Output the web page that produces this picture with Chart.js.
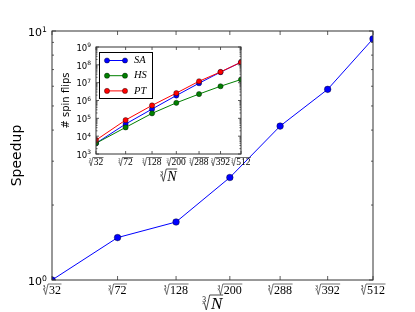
<!DOCTYPE html>
<html lang="en">
<head>
<meta charset="UTF-8">
<title>Speedup</title>
<script src="https://cdn.jsdelivr.net/npm/chart.js"></script>
<style>
    html, body { margin: 0; padding: 0; background: #fff; }
    #wrap { position: relative; width: 415px; height: 312px; }
    #main { position: absolute; left: 0; top: 0; }
    #inset { position: absolute; left: 52px; top: 36px; }
</style>
</head>
<body>
<div id="wrap">
    <canvas id="main" width="415" height="312"></canvas>
    <canvas id="inset" width="200" height="152"></canvas>
</div>
<script>
// system sizes N, shown as cube roots on the x axis
const sizes = [32, 72, 128, 200, 288, 392, 512];
const tickLabels = ['32', '72', '128', '200', '288', '392', '512'];

// main plot: speedup
const speedup = [1.0, 1.48, 1.71, 2.58, 4.15, 5.83, 9.3];

// inset: number of spin flips
const flipsSA = [4000, 48000, 330000, 1.9e6, 9.3e6, 3.9e7, 1.4e8];
const flipsHS = [4000, 31000, 190000, 7.4e5, 2.3e6, 6.3e6, 1.5e7];
const flipsPT = [6000, 80000, 530000, 2.6e6, 1.2e7, 4.0e7, 1.4e8];
const seriesNames = ['SA', 'HS', 'PT'];
const seriesColors = ['#0000ff', '#008000', '#ff0000'];

const SERIF = '"Liberation Serif", "DejaVu Serif", serif';
const SANS = '"DejaVu Sans", sans-serif';
const SUP = '⁰¹²³⁴⁵⁶⁷⁸⁹';

function pts(vals) {
    return sizes.map((n, i) => ({ x: Math.cbrt(n), y: vals[i] }));
}

// draws  ∛txt  centred on cx, overline at y = top
function drawRoot(ctx, cx, top, txt, f, italic) {
    ctx.font = (italic ? 'italic ' : '') + f + 'px ' + SERIF;
    const w = ctx.measureText(txt).width;
    const capH = f * 0.66;
    const rw = f * 0.5;
    const x0 = cx - (rw + w) / 2;
    const base = top + f * 0.18 + capH;
    ctx.fillText(txt, x0 + rw, base);
    ctx.beginPath();
    ctx.moveTo(x0, base - 0.33 * f);
    ctx.lineTo(x0 + 0.1 * f, base - 0.4 * f);
    ctx.lineTo(x0 + 0.22 * f, base + 0.04 * f);
    ctx.lineTo(x0 + 0.42 * f, top);
    ctx.lineTo(x0 + rw + w + 0.04 * f, top);
    ctx.stroke();
    ctx.font = (f * 0.45) + 'px ' + SERIF;
    ctx.textAlign = 'right';
    ctx.fillText('3', x0 + 0.2 * f, base - 0.42 * f);
    ctx.textAlign = 'left';
}

// draws 10^e right-aligned at xr, centred on y
function drawPow(ctx, xr, y, e, f) {
    const fs = f * 0.7;
    ctx.font = fs + 'px ' + SANS;
    const ws = ctx.measureText(String(e)).width;
    ctx.font = f + 'px ' + SANS;
    const w = ctx.measureText('10').width;
    ctx.fillText('10', xr - ws - w, y + f * 0.45);
    ctx.font = fs + 'px ' + SANS;
    ctx.fillText(String(e), xr - ws, y + f * 0.05);
}

const mplAxes = {
    id: 'mplAxes',
    beforeDatasetsDraw(chart, args, o) {
        const a = chart.chartArea, ctx = chart.ctx;
        ctx.save();
        ctx.fillStyle = '#fff';
        ctx.fillRect(a.left, a.top, a.right - a.left, a.bottom - a.top);
        ctx.restore();
    },
    afterDraw(chart, args, o) {
        const ctx = chart.ctx, a = chart.chartArea;
        const xs = chart.scales.x, ys = chart.scales.y;
        ctx.save();
        ctx.strokeStyle = '#333';
        ctx.fillStyle = '#000';
        ctx.lineWidth = 1;
        ctx.strokeRect(Math.round(a.left), Math.round(a.top),
            Math.round(a.right - a.left), Math.round(a.bottom - a.top));

        // x ticks, inward on bottom and top
        ctx.lineWidth = 0.8;
        sizes.forEach((n, i) => {
            const px = xs.getPixelForValue(Math.cbrt(n));
            ctx.beginPath();
            ctx.moveTo(px, a.bottom); ctx.lineTo(px, a.bottom - o.tick);
            ctx.moveTo(px, a.top); ctx.lineTo(px, a.top + o.tick);
            ctx.stroke();
            ctx.lineWidth = 0.7;
            drawRoot(ctx, px, a.bottom + o.xLabGap, tickLabels[i], o.xLabFont, false);
            ctx.lineWidth = 0.8;
        });

        // y ticks (log): decades major, 2..9 minor
        const e0 = Math.round(Math.log10(ys.min)), e1 = Math.round(Math.log10(ys.max));
        for (let e = e0; e <= e1; e++) {
            const d = Math.pow(10, e);
            const py = ys.getPixelForValue(d);
            ctx.beginPath();
            ctx.moveTo(a.left, py); ctx.lineTo(a.left + o.tick, py);
            ctx.moveTo(a.right, py); ctx.lineTo(a.right - o.tick, py);
            ctx.stroke();
            drawPow(ctx, a.left - o.yLabGap, py, e, o.yLabFont);
            if (e === e1) continue;
            for (let m = 2; m <= 9; m++) {
                const my = ys.getPixelForValue(m * d);
                ctx.beginPath();
                ctx.moveTo(a.left, my); ctx.lineTo(a.left + o.tick / 2, my);
                ctx.moveTo(a.right, my); ctx.lineTo(a.right - o.tick / 2, my);
                ctx.stroke();
            }
        }

        // axis titles
        ctx.lineWidth = 0.9;
        drawRoot(ctx, (a.left + a.right) / 2, a.bottom + o.xTitleGap, 'N', o.xTitleFont, true);
        ctx.save();
        ctx.translate(o.yTitleX, (a.top + a.bottom) / 2);
        ctx.rotate(-Math.PI / 2);
        ctx.font = o.yTitleFont + 'px ' + SANS;
        ctx.textAlign = 'center';
        ctx.textBaseline = 'middle';
        ctx.fillText(o.yTitle, 0, 0);
        ctx.restore();

        // legend box inside the plot (inset only)
        if (o.legend) {
            const bx = a.left + 3, by = a.top + 5, bw = 53, bh = 46;
            ctx.fillStyle = '#fff';
            ctx.fillRect(bx, by, bw, bh);
            ctx.strokeStyle = '#000';
            ctx.lineWidth = 1;
            ctx.strokeRect(bx + 0.5, by + 0.5, bw, bh);
            seriesNames.forEach((name, i) => {
                const ly = by + 8.5 + i * 15.2;
                ctx.strokeStyle = seriesColors[i];
                ctx.beginPath();
                ctx.moveTo(bx + 8, ly); ctx.lineTo(bx + 26, ly);
                ctx.stroke();
                [bx + 8, bx + 26].forEach(cx => {
                    ctx.beginPath();
                    ctx.arc(cx, ly, 2.6, 0, Math.PI * 2);
                    ctx.fillStyle = seriesColors[i];
                    ctx.fill();
                    ctx.strokeStyle = '#000';
                    ctx.lineWidth = 0.4;
                    ctx.stroke();
                    ctx.lineWidth = 1;
                });
                ctx.fillStyle = '#000';
                ctx.font = 'italic 10.5px ' + SERIF;
                ctx.textBaseline = 'middle';
                ctx.fillText(name, bx + 35, ly);
                ctx.textBaseline = 'alphabetic';
            });
        }
        ctx.restore();
    }
};

function lineSet(vals, color, r) {
    return {
        data: pts(vals),
        borderColor: color,
        borderWidth: 1,
        backgroundColor: color,
        pointBackgroundColor: color,
        pointBorderColor: '#000',
        pointBorderWidth: 0.4,
        pointRadius: r,
        tension: 0,
        clip: 0
    };
}

function axes(yMin, yMax) {
    return {
        x: { type: 'linear', display: false, min: Math.cbrt(sizes[0]), max: Math.cbrt(sizes[sizes.length - 1]) },
        y: { type: 'logarithmic', display: false, min: yMin, max: yMax }
    };
}

new Chart(document.getElementById('main'), {
    type: 'line',
    data: { datasets: [lineSet(speedup, '#0000ff', 3.3)] },
    options: {
        responsive: false,
        animation: false,
        events: [],
        layout: { padding: { left: 52, right: 42, top: 31, bottom: 32 } },
        scales: axes(1, 10),
        plugins: {
            legend: { display: false },
            tooltip: { enabled: false },
            mplAxes: {
                tick: 4, xLabGap: 4, xLabFont: 12, yLabGap: 5, yLabFont: 11,
                xTitleGap: 15, xTitleFont: 17, yTitle: 'Speedup', yTitleFont: 14, yTitleX: 17
            }
        }
    },
    plugins: [mplAxes]
});

new Chart(document.getElementById('inset'), {
    type: 'line',
    data: {
        datasets: [
            lineSet(flipsPT, seriesColors[2], 2.6),
            lineSet(flipsHS, seriesColors[1], 2.6),
            lineSet(flipsSA, seriesColors[0], 2.6)
        ]
    },
    options: {
        responsive: false,
        animation: false,
        events: [],
        layout: { padding: { left: 44, right: 11, top: 11, bottom: 34 } },
        scales: axes(1e3, 1e9),
        plugins: {
            legend: { display: false },
            tooltip: { enabled: false },
            mplAxes: {
                tick: 3, xLabGap: 3.5, xLabFont: 9.5, yLabGap: 5, yLabFont: 8.5,
                xTitleGap: 15, xTitleFont: 14, yTitle: '# spin flips', yTitleFont: 10, yTitleX: 14,
                legend: true
            }
        }
    },
    plugins: [mplAxes]
});
</script>
</body>
</html>
